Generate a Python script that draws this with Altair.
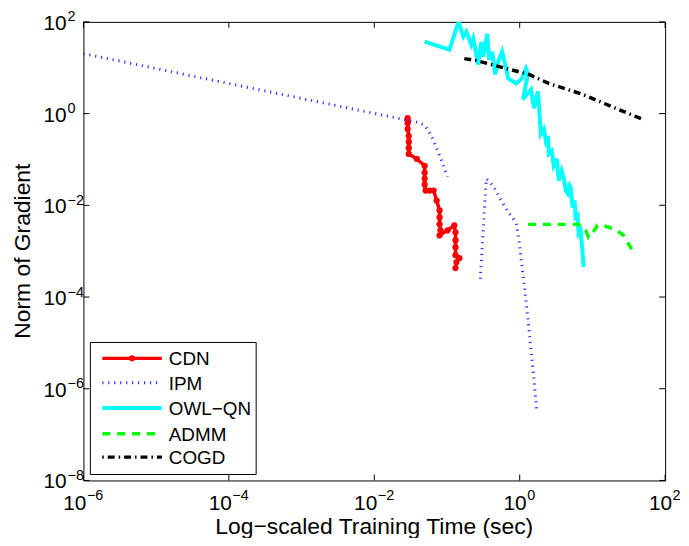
import altair as alt
import pandas as pd

W, H = 586, 462
FONT = "Liberation Sans"

# ---------------- data ----------------
cdn_x = [0.0288, 0.0288, 0.0288, 0.0298, 0.0298, 0.0298, 0.0298, 0.0383, 0.0493, 0.0493,
         0.0493, 0.0493, 0.0508, 0.0577, 0.0655, 0.0720, 0.0791, 0.0791, 0.0791, 0.0815,
         0.0791, 0.102, 0.126, 0.131, 0.131, 0.131, 0.131, 0.148, 0.135, 0.131]
cdn_y = [0.794, 0.619, 0.459, 0.324, 0.240, 0.178, 0.132, 0.103, 0.0727, 0.0513,
         0.0380, 0.0282, 0.0209, 0.0209, 0.0209, 0.0127, 0.00771, 0.00545, 0.00384, 0.00285,
         0.00222, 0.00285, 0.00366, 0.00258, 0.00173, 0.00122, 0.000818, 0.000705, 0.000578, 0.000429]

ipm_x = [1e-6, 0.0383, 0.0493, 0.0614, 0.0720, 0.0841, 0.102,
         0.287, 0.347, 0.432, 0.556, 0.715, 0.889, 0.977, 1.07, 1.18, 1.30, 1.43, 1.57, 1.72]
ipm_y = [20.3, 0.652, 0.561, 0.324, 0.178, 0.0933, 0.0420,
         0.000248, 0.0380, 0.0268, 0.0127, 0.00665, 0.00425, 0.00173, 0.000498, 0.000143,
         3.21e-5, 7.19e-6, 1.61e-6, 2.96e-7]
ipm_seg = [0, 0, 0, 0, 0, 0, 0,
           1, 1, 1, 1, 1, 1, 1, 1, 1, 1, 1, 1, 1]

owl_x = [0.0493, 0.108, 0.144, 0.168, 0.185, 0.216, 0.230, 0.269, 0.296, 0.316,
         0.357, 0.381, 0.419, 0.460, 0.506, 0.573, 0.650, 0.692, 0.809, 0.889,
         1.07, 1.22, 1.30, 1.11, 1.43, 1.57, 1.78, 1.89,
         1.95, 2.15, 2.29, 2.44, 2.51, 2.76, 2.94, 3.24, 3.44, 3.78,
         4.03, 4.30, 4.57, 4.86, 5.02, 5.35, 5.69, 5.87, 6.25, 6.46,
         6.87, 7.33, 7.55]
owl_y = [36.9, 24.8, 100.0, 47.3, 60.8, 31.8, 42.9, 11.7, 36.9, 17.5,
         55.0, 15.0, 22.4, 7.13, 13.6, 22.4, 9.61, 5.84, 5.02, 4.55,
         5.84, 9.61, 7.48, 2.05, 3.37, 1.31, 3.05, 0.794,
         0.358, 0.459, 0.253, 0.324, 0.132, 0.153, 0.0727, 0.103, 0.0344, 0.0566,
         0.0400, 0.0209, 0.0180, 0.0268, 0.0243, 0.00895, 0.0127, 0.00545, 0.00601, 0.00245,
         0.00285, 0.000906, 0.000451]

admm_x = [1.30, 6.46, 8.05, 8.85, 10.0, 11.7, 13.7, 20.7, 26.6, 31.1, 36.4]
admm_y = [0.00384, 0.00384, 0.00285, 0.00201, 0.00245, 0.00366, 0.00366, 0.00299,
          0.00222, 0.00149, 0.000951]

cogd_x = [0.173, 0.253, 0.521, 1.34, 2.51, 7.33, 20.7, 48.3]
cogd_y = [15.8, 14.3, 10.6, 7.13, 4.55, 2.63, 1.31, 0.757]

x_ticks = [1e-6, 1e-4, 1e-2, 1.0, 1e2]
x_exps = ["−6", "−4", "−2", "0", "2"]
y_ticks = [1e2, 1.0, 1e-2, 1e-4, 1e-6, 1e-8]
y_exps = ["2", "0", "−2", "−4", "−6", "−8"]

series_names = ["CDN", "IPM", "OWL−QN", "ADMM", "COGD"]
series_colors = ["#ff0000", "#0000ff", "#00ffff", "#00ff00", "#000000"]

x_title = "Log−scaled Training Time (sec)"
y_title = "Norm of Gradient"

# ---------------- scales ----------------
xs = alt.Scale(type="log", domain=[1e-6, 1e2], nice=False)
ys = alt.Scale(type="log", domain=[1e-8, 1e2], nice=False)


def frame(xv, yv, seg=None):
    d = pd.DataFrame({"x": xv, "y": yv})
    d["i"] = range(len(d))
    d["seg"] = seg if seg is not None else 0
    return d


def line(df, color, width, dash=None, point=None, opacity=1.0):
    kw = dict(color=color, strokeWidth=width, clip=True, opacity=opacity)
    if dash:
        kw["strokeDash"] = dash
    if point is not None:
        kw["point"] = point
    return alt.Chart(df).mark_line(**kw).encode(
        x=alt.X("x:Q", scale=xs, axis=None),
        y=alt.Y("y:Q", scale=ys, axis=None),
        order=alt.Order("i:Q"),
        detail="seg:N",
    )


cdn = line(frame(cdn_x, cdn_y), series_colors[0], 3.5,
           point=alt.OverlayMarkDef(filled=True, color=series_colors[0], size=40, opacity=1))
ipm = line(frame(ipm_x, ipm_y, ipm_seg), series_colors[1], 3, dash=[1.2, 4.8], opacity=0.8)
owl = line(frame(owl_x, owl_y), series_colors[2], 4)
admm = line(frame(admm_x, admm_y), series_colors[3], 3.5, dash=[8, 7])
cogd = line(frame(cogd_x, cogd_y), series_colors[4], 3.5, dash=[7, 4, 1.5, 4])

# ---------------- ticks (inward, mirrored) ----------------
xt = pd.DataFrame({"v": x_ticks, "e": x_exps})
xt["n"] = xt["e"].str.len()
yt = pd.DataFrame({"v": y_ticks, "e": y_exps})

tick_len = 6
xb = alt.Chart(xt).mark_rule(color="black", strokeWidth=1).encode(
    x=alt.X("v:Q", scale=xs, axis=None), y=alt.value(H - tick_len), y2=alt.value(H))
xtop = alt.Chart(xt).mark_rule(color="black", strokeWidth=1).encode(
    x=alt.X("v:Q", scale=xs, axis=None), y=alt.value(0), y2=alt.value(tick_len))
yl = alt.Chart(yt).mark_rule(color="black", strokeWidth=1).encode(
    y=alt.Y("v:Q", scale=ys, axis=None), x=alt.value(0), x2=alt.value(tick_len))
yr = alt.Chart(yt).mark_rule(color="black", strokeWidth=1).encode(
    y=alt.Y("v:Q", scale=ys, axis=None), x=alt.value(W - tick_len), x2=alt.value(W))

# ---------------- tick labels "10" + superscript ----------------
BASE_FS, EXP_FS = 21, 14.5
xlabel_layers = []
for n, dx in [(1, 7), (2, 3)]:
    src = alt.Chart(xt).transform_filter(f"datum.n == {n}")
    xlabel_layers.append(src.mark_text(font=FONT, fontSize=BASE_FS, align="right",
                                       baseline="alphabetic", dx=dx).encode(
        x=alt.X("v:Q", scale=xs, axis=None), y=alt.value(H + 30), text=alt.value("10")))
    xlabel_layers.append(src.mark_text(font=FONT, fontSize=EXP_FS, align="left",
                                       baseline="alphabetic", dx=dx + 0.5).encode(
        x=alt.X("v:Q", scale=xs, axis=None), y=alt.value(H + 20), text="e:N"))

ylab_base = alt.Chart(yt).mark_text(font=FONT, fontSize=BASE_FS, align="right",
                                    baseline="alphabetic", dy=8).encode(
    y=alt.Y("v:Q", scale=ys, axis=None), x=alt.value(-17), text=alt.value("10"))
ylab_exp = alt.Chart(yt).mark_text(font=FONT, fontSize=EXP_FS, align="left",
                                   baseline="alphabetic", dy=-0.5).encode(
    y=alt.Y("v:Q", scale=ys, axis=None), x=alt.value(-16), text="e:N")

# ---------------- axis titles ----------------
xtit = alt.Chart(pd.DataFrame({"t": [x_title]})).mark_text(
    font=FONT, fontSize=23, align="center", baseline="alphabetic").encode(
    x=alt.value(W / 2), y=alt.value(H + 54), text="t:N")
ytit = alt.Chart(pd.DataFrame({"t": [y_title]})).mark_text(
    font=FONT, fontSize=23, align="center", baseline="alphabetic", angle=270).encode(
    x=alt.value(-54), y=alt.value(H / 2), text="t:N")

# ---------------- legend (drawn in the plot, like MATLAB) ----------------
lg = pd.DataFrame({"name": series_names})
box = alt.Chart(lg.head(1)).mark_rect(fill="white", stroke="black", strokeWidth=1).encode(
    x=alt.value(7), x2=alt.value(174), y=alt.value(323), y2=alt.value(456))
leg_y = [339, 363.5, 389, 415, 438.5]
leg_styles = [
    dict(color=series_colors[0], strokeWidth=3.5),
    dict(color=series_colors[1], strokeWidth=3, strokeDash=[1.2, 4.8], opacity=0.8),
    dict(color=series_colors[2], strokeWidth=4),
    dict(color=series_colors[3], strokeWidth=3.5, strokeDash=[8, 7]),
    dict(color=series_colors[4], strokeWidth=3.5, strokeDash=[1.5, 4, 7, 4]),
]
leg_layers = [box]
for name, yy, st in zip(series_names, leg_y, leg_styles):
    src = alt.Chart(lg).transform_filter(alt.datum.name == name)
    leg_layers.append(src.mark_rule(**st).encode(
        x=alt.value(19), x2=alt.value(79), y=alt.value(yy)))
    leg_layers.append(src.mark_text(font=FONT, fontSize=19, align="left",
                                    baseline="middle").encode(
        x=alt.value(86), y=alt.value(yy + 1), text="name:N"))
leg_layers.append(alt.Chart(lg.head(1)).mark_point(
    filled=True, color=series_colors[0], size=40, opacity=1).encode(
    x=alt.value(49), y=alt.value(leg_y[0])))

chart = alt.layer(
    cdn, ipm, owl, admm, cogd,
    xb, xtop, yl, yr,
    *xlabel_layers, ylab_base, ylab_exp,
    xtit, ytit,
    *leg_layers,
).properties(
    width=W, height=H,
    padding={"left": 76, "top": 12, "right": 16, "bottom": 56},
    autosize=alt.AutoSizeParams(type="none"),
    background="white",
).configure_view(stroke="black", strokeWidth=1)

chart.save("out.html", embed_options={"renderer": "svg", "actions": False})
